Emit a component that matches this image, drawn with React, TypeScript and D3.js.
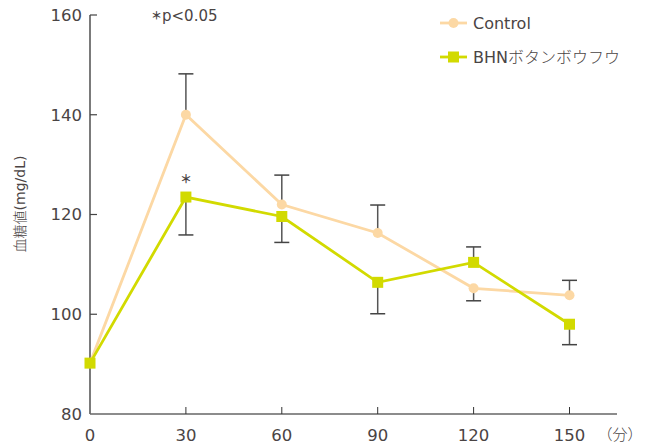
import React from "react";
import * as d3 from "d3";

const times = [0, 30, 60, 90, 120, 150];
const controlValues = [90.2, 140, 122, 116.3, 105.2, 103.8];
const bhnValues = [90.2, 123.5, 119.6, 106.4, 110.4, 98];
// error bar ends: [time, from value, to value]
const errorTime = [30, 30, 60, 60, 90, 90, 120, 120, 150, 150];
const errorFrom = [140, 123.5, 122, 119.6, 116.3, 106.4, 110.4, 105.2, 103.8, 98];
const errorTo = [148.2, 115.9, 127.9, 114.4, 121.9, 100.1, 113.5, 102.7, 106.8, 93.9];
const yTicks = [80, 100, 120, 140, 160];
const xTicks = [0, 30, 60, 90, 120, 150];

const CONTROL = "#FCD8A4";
const BHN = "#D2DA00";
const TEXT = "#4a4444";
const FONT = "'DejaVu Sans', 'Noto Sans CJK JP', sans-serif";
const CJK = "'Noto Sans CJK JP', sans-serif";

export default function App() {
  const x = d3.scaleLinear().domain([0, 150]).range([90, 569.5]);
  const y = d3.scaleLinear().domain([80, 160]).range([414, 15]);
  const line = d3
    .line<number>()
    .x((_, i) => x(times[i]))
    .y((d) => y(d));

  return (
    <svg width={650} height={445} style={{ position: "absolute", left: 0, top: 0, background: "#fff" }}>
      {/* axes */}
      <line x1={90} x2={90} y1={y(160)} y2={y(80)} stroke="#222" strokeWidth={1.2} />
      <line x1={90} x2={617} y1={y(80)} y2={y(80)} stroke="#666" strokeWidth={1.6} />
      {yTicks.map((t) => (
        <g key={"y" + t}>
          {t !== 80 && <line x1={90} x2={97} y1={y(t)} y2={y(t)} stroke="#444" strokeWidth={1.2} />}
          <text x={82} y={y(t)} dy="0.36em" textAnchor="end" fontSize={16.5} fill={TEXT} fontFamily={FONT}>
            {t}
          </text>
        </g>
      ))}
      {xTicks.map((t) => (
        <g key={"x" + t}>
          {t !== 0 && <line x1={x(t)} x2={x(t)} y1={y(80)} y2={y(80) - 7} stroke="#333" strokeWidth={1} />}
          <text x={x(t)} y={441} textAnchor="middle" fontSize={16.5} fill={TEXT} fontFamily={FONT}>
            {t}
          </text>
        </g>
      ))}
      <text x={620} y={440} textAnchor="middle" fontSize={15} fill={TEXT} fontFamily={CJK} fontWeight={300}>
        （分）
      </text>
      <text
        transform={`translate(25,204) rotate(-90)`}
        textAnchor="middle"
        fontSize={14}
        fill={TEXT}
        fontFamily={FONT}
      >
        <tspan fontFamily={CJK} fontWeight={300}>血糖値</tspan>(mg/dL)
      </text>
      <text x={151} y={21} fontSize={15} fill={TEXT} fontFamily={FONT}>
        <tspan fontFamily={CJK} fontWeight={700} fontSize={11} dy={-1.5}>＊</tspan>
        <tspan dy={1.5}>p&lt;0.05</tspan>
      </text>

      {/* lines */}
      <path d={line(controlValues) || ""} fill="none" stroke={CONTROL} strokeWidth={2.8} />
      <path d={line(bhnValues) || ""} fill="none" stroke={BHN} strokeWidth={2.8} />

      {/* error bars */}
      {errorTime.map((t, i) => (
        <g key={"e" + i}>
          <line x1={x(t)} x2={x(t)} y1={y(errorFrom[i])} y2={y(errorTo[i])} stroke="#555" strokeWidth={1.5} />
          <line x1={x(t) - 7.5} x2={x(t) + 7.5} y1={y(errorTo[i])} y2={y(errorTo[i])} stroke="#444" strokeWidth={1.5} />
        </g>
      ))}

      {/* markers */}
      {controlValues.map((v, i) => (
        <circle key={"c" + i} cx={x(times[i])} cy={y(v)} r={5} fill={CONTROL} />
      ))}
      {bhnValues.map((v, i) => (
        <rect key={"b" + i} x={x(times[i]) - 5.5} y={y(v) - 5.5} width={11} height={11} fill={BHN} />
      ))}

      <text x={x(30)} y={y(bhnValues[1]) - 13.5} textAnchor="middle" fontSize={12} fontWeight={700} fill={TEXT} fontFamily={CJK}>
        ＊
      </text>

      {/* legend */}
      <line x1={440} x2={467} y1={23} y2={23} stroke={CONTROL} strokeWidth={2.8} />
      <circle cx={453.5} cy={23} r={5} fill={CONTROL} />
      <text x={473} y={23} dy="0.36em" fontSize={16} fill={TEXT} fontFamily={FONT}>
        Control
      </text>
      <line x1={440} x2={467} y1={57} y2={57} stroke={BHN} strokeWidth={2.8} />
      <rect x={448} y={51.5} width={11} height={11} fill={BHN} />
      <text x={473} y={57} dy="0.36em" fontSize={16} fill={TEXT} fontFamily={FONT}>
        BHN<tspan fontFamily={CJK} fontWeight={300}>ボタンボウフウ</tspan>
      </text>
    </svg>
  );
}
